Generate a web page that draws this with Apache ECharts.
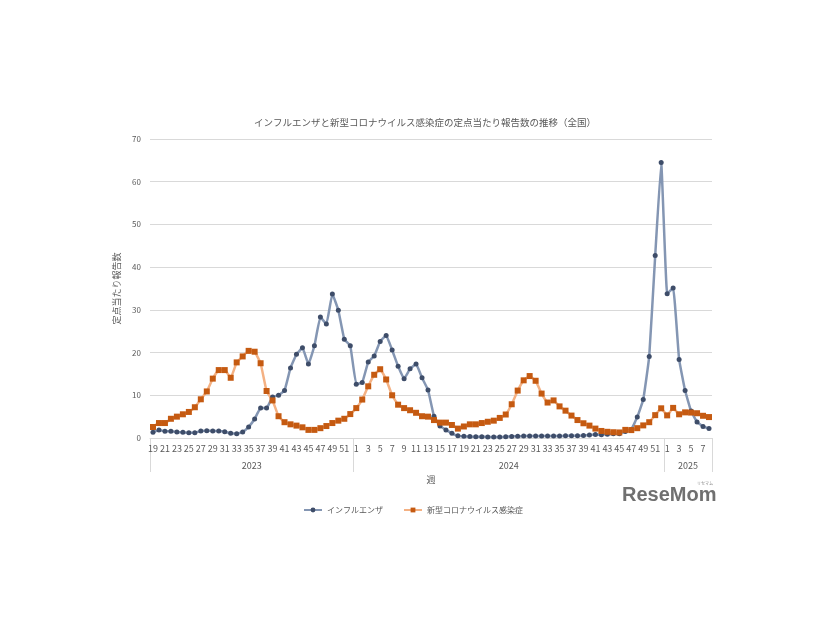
<!DOCTYPE html>
<html>
<head>
<meta charset="utf-8">
<script src="https://cdn.jsdelivr.net/npm/echarts@6/dist/echarts.min.js"></script>
<style>html,body{margin:0;padding:0;background:#fff;}#c{width:826px;height:620px;}</style>
</head>
<body>
<div id="c"></div>
<script>
// Periods
const years = ['2023', '2024', '2025'];
const weeks2023 = [19,20,21,22,23,24,25,26,27,28,29,30,31,32,33,34,35,36,37,38,39,40,41,42,43,44,45,46,47,48,49,50,51,52];
const weeks2024 = [1,2,3,4,5,6,7,8,9,10,11,12,13,14,15,16,17,18,19,20,21,22,23,24,25,26,27,28,29,30,31,32,33,34,35,36,37,38,39,40,41,42,43,44,45,46,47,48,49,50,51,52];
const weeks2025 = [1,2,3,4,5,6,7,8];

// インフルエンザ
const flu2023 = [1.33,1.9,1.56,1.56,1.4,1.33,1.25,1.25,1.64,1.72,1.64,1.64,1.48,1.1,1.0,1.4,2.6,4.45,7.0,7.0,9.6,10.0,11.1,16.4,19.6,21.1,17.3,21.6,28.3,26.7,33.7,29.9,23.1,21.6];
const flu2024 = [12.6,13.0,17.8,19.2,22.6,24.0,20.6,16.8,13.9,16.2,17.3,14.1,11.25,5.1,2.8,1.9,1.1,0.5,0.39,0.34,0.3,0.27,0.26,0.25,0.25,0.3,0.37,0.4,0.45,0.48,0.45,0.45,0.44,0.45,0.45,0.5,0.55,0.55,0.6,0.7,0.8,0.78,0.86,1.0,1.0,1.5,2.0,4.9,9.0,19.1,42.7,64.5];
const flu2025 = [33.8,35.1,18.4,11.1,6.3,3.75,2.7,2.2];

// 新型コロナウイルス感染症
const covid2023 = [2.58,3.5,3.5,4.5,5.0,5.55,6.1,7.2,9.06,10.9,13.9,15.9,15.9,14.1,17.7,19.1,20.4,20.2,17.5,11.0,8.8,5.1,3.7,3.2,2.9,2.5,1.9,1.9,2.3,2.8,3.5,4.06,4.5,5.6];
const covid2024 = [7.0,9.0,12.1,14.8,16.1,13.7,10.0,7.8,7.0,6.5,5.9,5.1,5.0,4.2,3.6,3.6,3.05,2.2,2.7,3.2,3.2,3.5,3.8,4.06,4.7,5.5,7.9,11.1,13.5,14.5,13.4,10.4,8.3,8.8,7.4,6.4,5.25,4.2,3.45,2.9,2.2,1.65,1.45,1.35,1.3,1.9,1.85,2.3,2.95,3.7,5.35,6.95];
const covid2025 = [5.3,7.05,5.55,6.0,5.95,5.8,5.2,4.9];

const seriesNames = ['インフルエンザ', '新型コロナウイルス感染症'];
const yTicks = [0,10,20,30,40,50,60,70];

const weekGroups = [weeks2023, weeks2024, weeks2025];
const categories = [];
const yearBounds = [0];
weekGroups.forEach((ws, i) => {
  ws.forEach(w => categories.push(years[i] + '-' + w));
  yearBounds.push(categories.length);
});
const yearCenters = years.map((y, i) => (yearBounds[i] + yearBounds[i + 1]) / 2);
const flu = flu2023.concat(flu2024, flu2025);
const covid = covid2023.concat(covid2024, covid2025);

const txt = '#595959';
const font = '"Noto Sans CJK JP", "Noto Sans", sans-serif';
const chart = echarts.init(document.getElementById('c'), null, {renderer: 'canvas'});
chart.setOption({
  backgroundColor: '#ffffff',
  animation: false,
  title: {
    text: 'インフルエンザと新型コロナウイルス感染症の定点当たり報告数の推移（全国）',
    left: 420, top: 113, textAlign: 'center',
    textStyle: {fontSize: 9.5, fontWeight: 'normal', color: txt, fontFamily: font}
  },
  legend: {
    data: seriesNames,
    left: 'center', top: 501,
    itemWidth: 18, itemHeight: 6, itemGap: 20,
    textStyle: {fontSize: 8, color: txt, fontFamily: font}
  },
  grid: {left: 150, right: 114, top: 139, bottom: 182, containLabel: false},
  xAxis: [{
    type: 'category',
    data: categories,
    boundaryGap: true,
    name: '週',
    nameLocation: 'middle',
    nameGap: 37,
    nameTextStyle: {fontSize: 9, color: txt, fontFamily: font},
    axisLine: {show: true, lineStyle: {color: '#d9d9d9', width: 1}},
    axisTick: {show: false},
    axisLabel: {interval: 1, fontSize: 9, color: txt, fontFamily: font, margin: 6,
      formatter: v => v.split('-')[1]},
    splitLine: {show: false}
  }, {
    type: 'value',
    min: 0, max: categories.length,
    position: 'bottom',
    axisLine: {show: false},
    splitLine: {show: false},
    axisTick: {show: true, customValues: yearBounds, length: 34, inside: false,
      lineStyle: {color: '#d9d9d9', width: 1}},
    axisLabel: {show: true, customValues: yearCenters, margin: 23, fontSize: 9, color: txt, fontFamily: font,
      formatter: v => { const i = yearCenters.indexOf(v); return i >= 0 ? years[i] : ''; }}
  }],
  yAxis: {
    type: 'value',
    min: yTicks[0], max: yTicks[yTicks.length - 1], interval: 10,
    name: '定点当たり報告数',
    nameLocation: 'middle',
    nameRotate: 90,
    nameGap: 20,
    nameTextStyle: {fontSize: 9, color: txt, fontFamily: font},
    axisLine: {show: false},
    axisTick: {show: false},
    axisLabel: {fontSize: 8, color: txt, fontFamily: font, margin: 9},
    splitLine: {lineStyle: {color: '#d9d9d9', width: 1}}
  },
  graphic: [{
    type: 'text', left: 622, top: 485,
    style: {text: 'ReseMom', fill: '#707070', font: 'bold 20px "Liberation Sans", Arial, sans-serif'}
  }, {
    type: 'text', left: 697, top: 481,
    style: {text: 'リセマム', fill: '#8a8a8a', font: '4px "Noto Sans CJK JP"'}
  }],
  series: [{
    name: seriesNames[0],
    type: 'line',
    xAxisIndex: 0,
    data: flu,
    smooth: 0.1,
    showAllSymbol: true,
    symbol: 'circle',
    symbolSize: 5,
    lineStyle: {color: '#8496b3', width: 2.5},
    itemStyle: {color: '#3e4d69', borderWidth: 0}
  }, {
    name: seriesNames[1],
    type: 'line',
    xAxisIndex: 0,
    data: covid,
    smooth: 0.1,
    showAllSymbol: true,
    symbol: 'rect',
    symbolSize: 6,
    lineStyle: {color: '#f4b183', width: 2.5},
    itemStyle: {color: '#c55a11', borderWidth: 0}
  }]
});
</script>
</body>
</html>
